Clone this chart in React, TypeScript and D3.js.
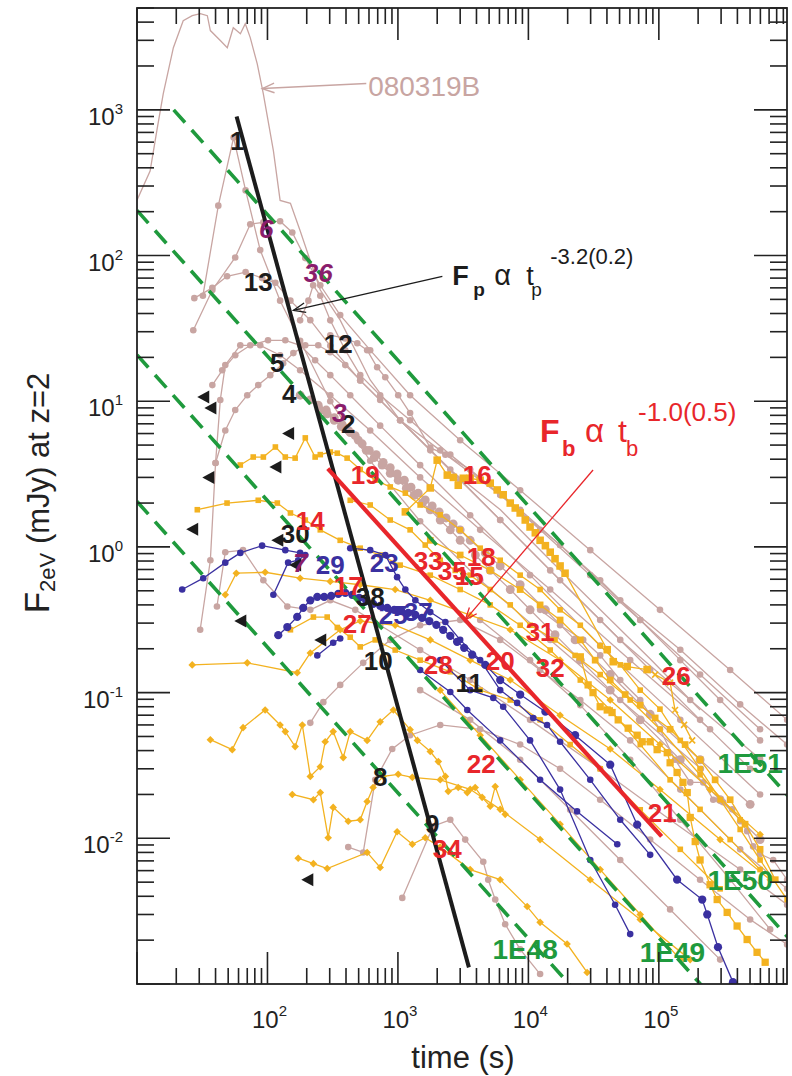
import React from "react";
import * as d3 from "d3";

type Pt = [number, number];

// ---- light curves: [time (s), F_2eV (mJy)] ----
const grb080319B: Pt[] = [[10,240],[12.6,380],[14.3,750],[15.9,1290],[19,2670],[22.6,4090],[26.5,4430],[30.6,4570],[34.6,4430],[36.5,3500],[43.5,2990],[49.2,2670],[54.7,3660],[62,3330],[67.6,3900],[73.8,3130],[83.5,2070],[92.9,1290],[111,525],[125,239],[150,228],[178,148],[213,92],[254,58],[361,36],[613,14],[1040,7.4],[2500,3.4],[6100,1.8],[14700,0.81],[35600,0.37],[86000,0.17],[207000,0.076]];

const brown1: Pt[] = [[32,53],[42,220],[55,645],[68,280],[88,109],[125,49],[178,26],[303,10],[613,3.9],[1480,1.5],[4270,0.59],[14700,0.23],[50600,0.089],[210000,0.03]];
const brown13: Pt[] = [[27.5,51],[37.8,60],[49,72],[68,77],[91,70],[115,65],[150,49],[213,36],[303,24],[514,13.9],[1040,7.4],[2520,3.4],[6080,1.53],[17500,0.59],[50600,0.23],[174000,0.089],[597000,0.035]];
const brown6: Pt[] = [[27,30.7],[37.8,58],[56.6,97],[73.8,164],[93,169],[125,172],[155,144],[195,96],[254,62.5],[361,39],[613,22.4],[1240,11],[3000,5.4],[8650,2.45],[29800,0.95],[102000,0.37],[352000,0.143],[962000,0.065]];
const brown36: Pt[] = [[178,35.9],[206,49],[224,62.5],[254,53],[303,35.9],[395,22.4],[514,15.1],[731,11],[1240,7.4],[2520,4.3],[6080,2.28],[17500,1.03],[50600,0.43],[146000,0.197],[420000,0.083],[962000,0.044]];
const brown12: Pt[] = [[303,28.4],[395,27],[488,25],[581,22.4],[693,17.1],[800,14.6],[1005,11],[1240,8.3],[1770,4.8],[2310,4.3],[3580,3.4],[6080,2.28],[12300,1.31],[29800,0.64],[72000,0.315],[207000,0.133],[597000,0.056]];
const brown5: Pt[] = [[37.8,12.9],[45,16.3],[56.6,20.7],[73.8,24.2],[101,26.2],[137,26.2],[178,24.2],[232,19.1],[303,15.1],[431,11],[731,6.8],[1480,3.64],[3580,1.65],[10300,0.64],[35500,0.21],[146000,0.065],[597000,0.02]];
const brown4: Pt[] = [[40,3.77],[47.5,6.3],[56.6,8.7],[70,11],[85,12.9],[105,15.1],[132,18.2],[158,21.4],[195,24.2],[245,24.2],[303,21.7],[395,17.7],[514,13.9],[731,10.2],[1040,7.4],[1770,4.6],[3000,2.87],[6080,1.53],[14700,0.69],[35500,0.315],[85800,0.143],[207000,0.065],[501000,0.03]];
const brown2: Pt[] = [[178,11],[213,10.2],[245,9.4],[282,8.7],[325,7.7],[374,6.9],[431,6.1],[497,5.4],[572,4.6],[658,4.1],[757,3.65],[873,3.2],[1005,2.87],[1160,2.53],[1330,2.26],[1540,2.0],[1770,1.8],[2110,1.53],[2520,1.31],[3000,1.11],[3920,0.88],[5100,0.69],[7260,0.51],[10300,0.37],[16000,0.25],[25000,0.167],[42400,0.104],[72000,0.065],[146000,0.0346],[295000,0.0184],[597000,0.0098]];
const brown3: Pt[] = [[254,8.7],[287,8.2],[325,7.4],[368,6.7],[416,6.3],[471,5.8],[532,5.1],[603,4.6],[682,4.3],[771,3.8],[873,3.5],[988,3.17],[1120,2.87],[1260,2.57],[1430,2.34],[1620,2.1],[1830,1.91],[2070,1.74],[2340,1.58],[2650,1.44],[3000,1.31],[3580,1.11],[4670,0.91],[6080,0.74],[8650,0.55],[13500,0.37],[22800,0.23],[42400,0.133],[85800,0.071],[207000,0.0346],[501000,0.0171]];
const brownRise: Pt[] = [[30.5,0.27],[36.5,0.81],[40,3.77],[43.5,10.2],[47.5,17.7],[61.9,24.2],[88,24.2],[125,20.7],[178,16.3],[303,11],[613,6.3],[1480,3.0],[4270,1.31],[14700,0.51],[60300,0.167],[247000,0.056]];
const brown7: Pt[] = [[41,0.39],[47.5,0.92],[65,0.95],[93,0.59],[142,0.39],[213,0.37],[303,0.43],[471,0.37],[731,0.29],[1480,0.196],[3580,0.122],[10300,0.065],[35500,0.03],[122000,0.0134],[420000,0.0061],[962000,0.0035]];
const brown10: Pt[] = [[213,0.062],[268,0.086],[361,0.113],[542,0.16],[873,0.23],[1480,0.29],[3000,0.315],[6080,0.23],[12300,0.143],[25000,0.089],[60300,0.047],[146000,0.0216],[420000,0.0084],[962000,0.0045]];
const brown8: Pt[] = [[416,0.0087],[542,0.008],[670,0.0252],[904,0.041],[1240,0.051],[2110,0.06],[4270,0.056],[8650,0.044],[17500,0.03],[35500,0.0184],[85800,0.0098],[207000,0.0052],[501000,0.00277],[962000,0.00187]];
const brown9: Pt[] = [[1080,0.0039],[1860,0.0121],[2520,0.0134],[3280,0.0098],[4510,0.0069],[4920,0.0052],[5570,0.0038],[6640,0.00257],[8650,0.00173],[12300,0.00117]];
const brown11: Pt[] = [[1480,0.104],[3580,0.065],[8650,0.0346],[20900,0.0157],[50600,0.0071],[122000,0.00325],[295000,0.00147]];
const brownLate: Pt[] = [[4270,0.315],[10300,0.167],[25000,0.082],[60300,0.0346],[146000,0.0134],[352000,0.0052],[713000,0.00237]];
const brownEdge: Pt[] = [[12300,0.37],[17500,0.29],[26300,0.23],[35500,0.18],[50600,0.122],[72000,0.089],[102000,0.056],[133000,0.0346],[174000,0.0242],[219000,0.0242],[261000,0.0184],[311000,0.0177],[365000,0.0158],[420000,0.0131],[475000,0.0112],[528000,0.0088],[597000,0.0078],[752000,0.0071],[962000,0.0052]];
const brownLong: Pt[] = [[1040,7.4],[2110,4.6],[4270,2.87],[8650,1.8],[17500,1.03],[35500,0.59],[72000,0.315],[146000,0.167],[295000,0.089],[597000,0.047]];

const orange16: Pt[] = [[1140,1.74],[1770,2.54],[2000,3.94],[2390,3.11],[2660,3.0],[2900,2.65],[3170,2.96],[3580,2.96],[4270,2.87],[5100,2.74],[5770,2.46],[6410,2.28],[7260,2.0],[7930,1.85],[8650,1.71],[9460,1.53],[10300,1.37],[11300,1.25],[12300,1.11],[13500,1.02],[14700,0.92],[16000,0.83],[17500,0.74],[19100,0.66],[40200,0.197],[44700,0.163],[57200,0.151],[81300,0.144]];
const orange19: Pt[] = [[61.9,3.65],[77.8,4.14],[93,4.14],[115,4.85],[137,4.14],[163,4.07],[195,5.6],[232,4.14],[254,4.3],[303,4.48],[343,4.4],[408,4.07],[514,3.4],[670,2.87],[873,2.58],[1140,2.34],[1480,1.94],[2110,1.66],[3000,1.31],[4270,0.98],[6080,0.81],[8650,0.64],[12300,0.51],[17500,0.37],[25000,0.29],[35500,0.21],[50600,0.155],[72000,0.104],[102000,0.077],[146000,0.047],[207000,0.03],[295000,0.0184],[420000,0.0115],[597000,0.0071],[962000,0.0038]];
const orange14: Pt[] = [[29,1.8],[49,2.0],[85,2.09],[119,2.0],[150,1.71],[195,1.53],[254,1.31],[361,1.11],[514,0.98],[731,0.88],[1040,0.75],[1770,0.64],[3000,0.51],[5100,0.4],[8650,0.29],[14700,0.196],[25000,0.122],[42400,0.076],[72000,0.044],[122000,0.0252],[207000,0.0158],[352000,0.0098],[597000,0.0061]];
const orange17: Pt[] = [[47.5,0.47],[57.7,0.66],[96,0.67],[178,0.61],[303,0.58],[514,0.55],[953,0.51],[1770,0.43],[3580,0.34],[7260,0.27],[17500,0.167],[42400,0.089],[102000,0.044],[247000,0.0216],[597000,0.0106]];
const orangeLow1: Pt[] = [[26.5,0.155],[70,0.16],[169,0.137],[213,0.187],[361,0.27],[514,0.31],[953,0.29],[1770,0.23],[3580,0.167],[7260,0.122],[17500,0.07],[42400,0.041],[102000,0.0216],[295000,0.0098],[713000,0.0052]];
const orange22: Pt[] = [[36.5,0.0475],[53.7,0.0406],[65,0.0575],[96,0.076],[125,0.06],[137,0.054],[163,0.0426],[185,0.06],[213,0.0266],[254,0.031],[277,0.046],[319,0.054],[381,0.0358],[431,0.054],[581,0.047],[731,0.063],[923,0.076],[1240,0.0557],[1410,0.047],[1770,0.0394],[2040,0.0336],[2310,0.0266],[2430,0.021],[2900,0.0223],[3400,0.0206],[3910,0.0223],[4420,0.0191],[5100,0.0166],[5570,0.0227],[6640,0.0146]];
const orangeLow2: Pt[] = [[155,0.02],[225,0.0184],[254,0.0206],[292,0.0101],[319,0.0163],[416,0.0131],[514,0.0134],[581,0.0179],[645,0.0223],[771,0.0266],[1005,0.0275],[1290,0.0262],[2110,0.0252],[3580,0.0217],[6080,0.0158],[12300,0.0098],[29800,0.0052],[72000,0.00277],[174000,0.00147]];
const orange34: Pt[] = [[172,0.0073],[225,0.0067],[287,0.0062],[581,0.008],[731,0.0063],[986,0.0111],[1290,0.0091],[1620,0.0101],[2110,0.0087],[3580,0.0061],[6080,0.0052],[9790,0.0034],[12300,0.00265],[19800,0.00188],[28200,0.0012]];
const orange26: Pt[] = [[93700,0.133],[122000,0.117],[133000,0.076],[156000,0.06],[180000,0.047]];
const orangeLate: Pt[] = [[25000,0.176],[28700,0.113],[31300,0.1],[35500,0.08],[40200,0.076],[43800,0.073],[48800,0.065],[58200,0.057],[68200,0.051],[74500,0.046],[85800,0.046],[97000,0.0406],[116000,0.0387],[122000,0.033],[138000,0.0283],[153000,0.0242],[165000,0.0206],[174000,0.0139],[190000,0.0095],[207000,0.0071],[247000,0.0048],[280000,0.0038],[334000,0.0031],[398000,0.0025],[475000,0.00202],[566000,0.00165],[653000,0.00141]];
const orange31: Pt[] = [[1770,1.11],[3000,0.88],[5100,0.69],[8650,0.51],[12300,0.4],[17500,0.315],[25000,0.23],[32500,0.167],[42400,0.122],[55200,0.097],[72000,0.082],[93700,0.067],[122000,0.056],[159000,0.044],[207000,0.0346],[270000,0.0252],[352000,0.0184],[458000,0.0125],[597000,0.0084],[780000,0.0052]];
const orange33: Pt[] = [[431,2.09],[613,1.94],[873,1.53],[1240,1.31],[1620,1.03],[2110,0.81],[2750,0.69],[3580,0.64],[5100,0.51],[7260,0.4],[10300,0.29],[16000,0.23],[22800,0.18],[35500,0.133],[60300,0.089],[102000,0.056],[207000,0.0273],[420000,0.0134]];
const orange27: Pt[] = [[150,0.27],[225,0.33],[287,0.33],[343,0.28],[431,0.24],[514,0.206],[670,0.23],[953,0.196],[1480,0.167],[2520,0.139],[4270,0.104],[7260,0.089],[12300,0.065],[20900,0.044],[35500,0.03],[72000,0.0157],[146000,0.0084],[295000,0.0045]];
const orangeSteep: Pt[] = [[2110,0.104],[4270,0.051],[8650,0.0252],[17500,0.0125],[35500,0.0061],[72000,0.003],[146000,0.00147]];

const blue7: Pt[] = [[22.2,0.51],[32.2,0.61],[47.5,0.78],[61.9,0.91],[91,1.02],[137,0.95],[178,0.91]];
const blue7b: Pt[] = [[111,0.47],[144,0.78],[172,0.81],[195,0.88]];
const blue25: Pt[] = [[121,0.248],[142,0.282],[169,0.331],[188,0.382],[213,0.43],[241,0.454],[272,0.454],[308,0.461],[349,0.476],[395,0.484],[447,0.469],[505,0.447],[571,0.427],[646,0.407],[731,0.394],[828,0.382],[936,0.37],[1060,0.364],[1200,0.353],[1360,0.342],[1530,0.326],[1740,0.31],[1970,0.292],[2220,0.27],[2520,0.245],[2840,0.223],[3220,0.203],[3710,0.182],[4670,0.155],[6080,0.122],[8650,0.097],[13500,0.074],[22800,0.051],[42400,0.032],[68200,0.0124],[138000,0.0052],[215000,0.0038],[235000,0.003],[284000,0.00179],[370000,0.00103]];
const blue23: Pt[] = [[431,0.98],[613,0.95],[800,0.88],[986,0.62],[1140,0.51],[1360,0.43],[1770,0.357],[2310,0.305],[3000,0.23],[4270,0.167],[6080,0.104],[8200,0.085],[10900,0.067],[13900,0.06],[17500,0.046],[29800,0.0252],[50600,0.0134],[85800,0.0077]];
const blue28: Pt[] = [[1480,0.143],[2520,0.101],[3400,0.076],[6080,0.047],[12300,0.0252],[23600,0.0153],[48000,0.0091]];
const blue11: Pt[] = [[2110,0.167],[3580,0.104],[5380,0.092],[6410,0.08],[10300,0.047],[17500,0.0216],[29800,0.0071],[46200,0.0035],[60300,0.0022]];
const blue27: Pt[] = [[241,0.18],[319,0.22],[361,0.235]];

// upper limits (left-pointing triangles)
const upperLimits: Pt[] = [[32.2,10.7],[36.5,9.0],[144,6.0],[35.2,3.0],[115,3.54],[26.5,1.32],[119,1.11],[163,0.75],[61.9,0.31],[254,0.23],[202,0.0052]];

// constant-energy guides: F * t = K (mJy s)
const energyLabels = ["1E51", "1E50", "1E49", "1E48"];
const energyK = [1.91e4, 2.04e3, 2.08e2, 2.05e1];
const energyStart = [19.1, 10, 10, 10];
const energyLabelPos: Pt[] = [[501000, 0.033], [420000, 0.0052], [127000, 0.00165], [9440, 0.00173]];

// fitted relations
const peakFit: Pt[] = [[58, 900], [3500, 1.3e-3]];
const breakFit: Pt[] = [[290, 3.45], [1.05e5, 0.0103]];

// burst numbers: [text, t, F]
const blackLabels: [string, number, number][] = [["1",58.7,617],["13",85,66.5],["12",349,25],["5",119,18.5],["4",147,11.2],["2",416,7.0],["30",163,1.23],["38",613,0.454],["10",706,0.167],["11",3520,0.117],["8",731,0.0266],["9",1830,0.0127]];
const purpleLabels: [string, number, number][] = [["6",98,154],["36",245,76.7],["3",355,8.3],["7",178,0.78]];
const redLabels: [string, number, number][] = [["19",561,3.11],["16",4060,3.11],["14",213,1.51],["33",1710,0.81],["35",2610,0.685],["15",3520,0.634],["18",4350,0.855],["17",416,0.54],["27",488,0.296],["28",2040,0.155],["20",6080,0.167],["31",12300,0.263],["32",14700,0.149],["26",136000,0.131],["22",4350,0.0325],["21",106000,0.015],["34",2390,0.0085]];
const blueLabels: [string, number, number][] = [["29",303,0.753],["23",785,0.78],["25",920,0.341],["37",1430,0.357]];

// annotations
const burstName = "080319B";
const burstNamePos: Pt = [591, 1250];
const burstArrow: Pt[] = [[572, 1515], [91.2, 1400]];
const fpTextPos: Pt = [2610, 62.5];
const fpArrow: Pt[] = [[2190, 72], [158, 42]];
const fbTextPos: Pt = [12300, 5.25];
const fbArrow: Pt[] = [[31300, 3.37], [3280, 0.316]];

const xLabelExps = [2, 3, 4, 5];
const yLabelExps = [3, 2, 1, 0, -1, -2];

const BROWN = "#c8a5a2";
const ORANGE = "#f3b220";
const BLUE = "#3a30a0";
const RED = "#e8262b";
const PURPLE = "#8a1d6c";
const GREEN = "#1f9a3d";
const INK = "#1c1c1c";
const FONT = "'Liberation Sans', Arial, Helvetica, sans-serif";

type Shape = "circle" | "square" | "diamond" | "cross" | "none";
interface Series { data: Pt[]; color: string; shape: Shape; size?: number; }

const brownSeries: Series[] = [
  { data: grb080319B, color: BROWN, shape: "none" },
  ...[brown1, brown13, brown6, brown36, brown12, brown5, brown4, brownRise, brown7, brown10, brown8, brown9, brown11, brownLate, brownEdge, brownLong].map((d) => ({ data: d, color: BROWN, shape: "circle" as Shape })),
  { data: brown2, color: BROWN, shape: "circle", size: 1.35 },
  { data: brown3, color: BROWN, shape: "circle", size: 1.35 },
];
const orangeSeries: Series[] = [
  { data: orange16, color: ORANGE, shape: "square", size: 1.35 },
  { data: orange19, color: ORANGE, shape: "square" },
  { data: orange14, color: ORANGE, shape: "square" },
  { data: orange17, color: ORANGE, shape: "diamond" },
  { data: orangeLow1, color: ORANGE, shape: "diamond" },
  { data: orange22, color: ORANGE, shape: "diamond" },
  { data: orangeLow2, color: ORANGE, shape: "diamond" },
  { data: orange34, color: ORANGE, shape: "diamond" },
  { data: orange26, color: ORANGE, shape: "cross" },
  { data: orangeLate, color: ORANGE, shape: "square", size: 1.3 },
  { data: orange31, color: ORANGE, shape: "square", size: 1.2 },
  { data: orange33, color: ORANGE, shape: "square" },
  { data: orange27, color: ORANGE, shape: "square" },
  { data: orangeSteep, color: ORANGE, shape: "diamond" },
];
const blueSeries: Series[] = [
  { data: blue7, color: BLUE, shape: "circle" },
  { data: blue7b, color: BLUE, shape: "circle" },
  { data: blue25, color: BLUE, shape: "circle", size: 1.25 },
  { data: blue23, color: BLUE, shape: "circle" },
  { data: blue28, color: BLUE, shape: "circle" },
  { data: blue11, color: BLUE, shape: "circle" },
  { data: blue27, color: BLUE, shape: "circle" },
];

function Marker({ cx, cy, shape, color, k }: { cx: number; cy: number; shape: Shape; color: string; k: number }) {
  if (shape === "circle") return <circle cx={cx} cy={cy} r={3.3 * k} fill={color} />;
  if (shape === "square") { const h = 2.8 * k; return <rect x={cx - h} y={cy - h} width={2 * h} height={2 * h} fill={color} />; }
  if (shape === "diamond") { const h = 3.8 * k; return <path d={`M${cx},${cy - h}L${cx + h},${cy}L${cx},${cy + h}L${cx - h},${cy}Z`} fill={color} />; }
  if (shape === "cross") return <path d={`M${cx - 3},${cy - 3}L${cx + 3},${cy + 3}M${cx - 3},${cy + 3}L${cx + 3},${cy - 3}`} stroke={color} strokeWidth={1.6} />;
  return null;
}

function arrowHead(p0: [number, number], p1: [number, number], len = 13, spread = 0.38) {
  const a = Math.atan2(p1[1] - p0[1], p1[0] - p0[0]);
  const b1: [number, number] = [p1[0] - len * Math.cos(a - spread), p1[1] - len * Math.sin(a - spread)];
  const b2: [number, number] = [p1[0] - len * Math.cos(a + spread), p1[1] - len * Math.sin(a + spread)];
  return `M${b1[0]},${b1[1]}L${p1[0]},${p1[1]}L${b2[0]},${b2[1]}`;
}

export default function App() {
  const left = 137, right = 787, top = 8, bottom = 984;
  const x = d3.scaleLog().domain([10, 9.6e5]).range([left, right]);
  const y = d3.scaleLog().domain([1e-3, 5000]).range([bottom, top]);
  const line = d3.line<Pt>().x((d) => x(d[0])).y((d) => y(d[1]));
  const P = (d: Pt): [number, number] => [x(d[0]), y(d[1])];

  const xMajor = [10, 100, 1e3, 1e4, 1e5];
  const xMinor: number[] = [];
  for (let e = 1; e <= 5; e++) for (let m = 2; m <= 9; m++) { const v = m * 10 ** e; if (v < 9.6e5) xMinor.push(v); }
  const yMajor = [1e-3, 1e-2, 1e-1, 1, 10, 100, 1000];
  const yMinor: number[] = [];
  for (let e = -3; e <= 3; e++) for (let m = 2; m <= 9; m++) { const v = m * 10 ** e; if (v <= 5000) yMinor.push(v); }

  const renderSeries = (s: Series, i: number, key: string) => (
    <g key={`${key}${i}`}>
      <path d={line(s.data) || ""} fill="none" stroke={s.color} strokeWidth={1.3} />
      {s.shape !== "none" && s.data.map((d, j) => <Marker key={j} cx={x(d[0])} cy={y(d[1])} shape={s.shape} color={s.color} k={s.size ?? 1} />)}
    </g>
  );

  const numLabel = (lab: [string, number, number], color: string, italic = false, i = 0) => (
    <text key={lab[0] + i} x={x(lab[1])} y={y(lab[2])} dy="0.36em" textAnchor="middle" fill={color} fontSize={26} fontWeight="bold" fontStyle={italic ? "italic" : "normal"}>{lab[0]}</text>
  );

  const [bx0, by0] = P(burstNamePos);
  const [fpx, fpy] = P(fpTextPos);
  const [fbx, fby] = P(fbTextPos);
  const ba0 = P(burstArrow[0]), ba1 = P(burstArrow[1]);
  const fa0 = P(fpArrow[0]), fa1 = P(fpArrow[1]);
  const ra0 = P(fbArrow[0]), ra1 = P(fbArrow[1]);

  return (
    <svg width={792} height={1076} style={{ position: "absolute", left: 0, top: 0, background: "#fff" }} fontFamily={FONT}>
      <defs>
        <clipPath id="plotArea"><rect x={left} y={top} width={right - left} height={bottom - top} /></clipPath>
      </defs>
      <rect width={792} height={1076} fill="#fff" />

      <g clipPath="url(#plotArea)">
        {brownSeries.map((s, i) => renderSeries(s, i, "b"))}
        {orangeSeries.map((s, i) => renderSeries(s, i, "o"))}
        {blueSeries.map((s, i) => renderSeries(s, i, "u"))}

        {energyK.map((k, i) => {
          const t0 = energyStart[i];
          const pts: Pt[] = [[t0, k / t0], [1e6, k / 1e6]];
          return <path key={"e" + i} d={line(pts) || ""} stroke={GREEN} strokeWidth={3.6} strokeDasharray="17 10" fill="none" />;
        })}

        <path d={line(peakFit) || ""} stroke={INK} strokeWidth={4} fill="none" />
        <path d={line(breakFit) || ""} stroke={RED} strokeWidth={4.2} fill="none" />

        {upperLimits.map((d, i) => {
          const [cx, cy] = P(d);
          return <path key={"tri" + i} d={`M${cx - 6},${cy}L${cx + 6},${cy - 6.5}L${cx + 6},${cy + 6.5}Z`} fill={INK} />;
        })}
      </g>

      {/* burst numbers */}
      {blackLabels.map((l, i) => numLabel(l, INK, false, i))}
      {purpleLabels.map((l, i) => numLabel(l, PURPLE, true, i))}
      {redLabels.map((l, i) => numLabel(l, RED, false, i))}
      {blueLabels.map((l, i) => numLabel(l, BLUE, false, i))}
      {energyLabels.map((t, i) => (
        <text key={t} x={x(energyLabelPos[i][0])} y={y(energyLabelPos[i][1])} dy="0.36em" textAnchor="middle" fill={GREEN} fontSize={28} fontWeight="bold">{t}</text>
      ))}

      {/* 080319B annotation */}
      <text x={bx0} y={by0} fill={BROWN} fontSize={28}>{burstName}</text>
      <line x1={ba0[0]} y1={ba0[1]} x2={ba1[0]} y2={ba1[1]} stroke={BROWN} strokeWidth={1.4} />
      <path d={arrowHead(ba0, ba1)} stroke={BROWN} strokeWidth={1.4} fill="none" />

      {/* peak flux relation */}
      <line x1={fa0[0]} y1={fa0[1]} x2={fa1[0]} y2={fa1[1]} stroke={INK} strokeWidth={1.3} />
      <path d={arrowHead(fa0, fa1)} stroke={INK} strokeWidth={1.3} fill="none" />
      <g fill={INK}>
        <text x={fpx} y={fpy} fontSize={27} fontWeight="bold">F</text>
        <text x={fpx + 21} y={fpy + 11} fontSize={19} fontWeight="bold">p</text>
        <text x={fpx + 42} y={fpy} fontSize={29}>α</text>
        <text x={fpx + 74} y={fpy} fontSize={27}>t</text>
        <text x={fpx + 79} y={fpy + 11} fontSize={19}>p</text>
        <text x={fpx + 98} y={fpy - 21} fontSize={22}>-3.2(0.2)</text>
      </g>

      {/* break flux relation */}
      <line x1={ra0[0]} y1={ra0[1]} x2={ra1[0]} y2={ra1[1]} stroke={RED} strokeWidth={1.3} />
      <path d={arrowHead(ra0, ra1)} stroke={RED} strokeWidth={1.3} fill="none" />
      <g fill={RED}>
        <text x={fbx} y={fby} fontSize={32} fontWeight="bold">F</text>
        <text x={fbx + 22} y={fby + 14} fontSize={22} fontWeight="bold">b</text>
        <text x={fbx + 45} y={fby} fontSize={33}>α</text>
        <text x={fbx + 78} y={fby} fontSize={32}>t</text>
        <text x={fbx + 86} y={fby + 14} fontSize={22}>b</text>
        <text x={fbx + 98} y={fby - 21} fontSize={26}>-1.0(0.5)</text>
      </g>

      {/* frame and ticks */}
      <rect x={left} y={top} width={right - left} height={bottom - top} fill="none" stroke="#222" strokeWidth={1.8} />
      <g stroke="#222" strokeWidth={1.6}>
        {xMajor.map((v) => (
          <g key={"xM" + v}>
            <line x1={x(v)} x2={x(v)} y1={bottom} y2={bottom - 32} />
            <line x1={x(v)} x2={x(v)} y1={top} y2={top + 32} />
          </g>
        ))}
        {xMinor.map((v) => (
          <g key={"xm" + v}>
            <line x1={x(v)} x2={x(v)} y1={bottom} y2={bottom - 16} />
            <line x1={x(v)} x2={x(v)} y1={top} y2={top + 16} />
          </g>
        ))}
        {yMajor.map((v) => (
          <g key={"yM" + v}>
            <line x1={left} x2={left + 33} y1={y(v)} y2={y(v)} />
            <line x1={right} x2={right - 33} y1={y(v)} y2={y(v)} />
          </g>
        ))}
        {yMinor.map((v) => (
          <g key={"ym" + v}>
            <line x1={left} x2={left + 17} y1={y(v)} y2={y(v)} />
            <line x1={right} x2={right - 17} y1={y(v)} y2={y(v)} />
          </g>
        ))}
      </g>

      {/* tick labels */}
      <g fill="#222">
        {xLabelExps.map((e) => (
          <text key={"xl" + e} x={x(10 ** e) + 2} y={1028} fontSize={24} textAnchor="middle">
            10<tspan dy={-12} fontSize={15}>{e}</tspan>
          </text>
        ))}
        {yLabelExps.map((e) => (
          <text key={"yl" + e} x={123} y={y(10 ** e) + 15} fontSize={24} textAnchor="end">
            10<tspan dy={-11} fontSize={15}>{e}</tspan>
          </text>
        ))}
      </g>

      {/* axis titles */}
      <text x={463} y={1068} fontSize={31} textAnchor="middle" fill="#222">time (s)</text>
      <text transform="translate(49,493) rotate(-90)" textAnchor="middle" fill="#222" fontSize={31}>
        <tspan fontSize={35}>F</tspan>
        <tspan dy={6} fontSize={22}>2eV</tspan>
        <tspan dy={-6}> (mJy) at z=2</tspan>
      </text>
    </svg>
  );
}
